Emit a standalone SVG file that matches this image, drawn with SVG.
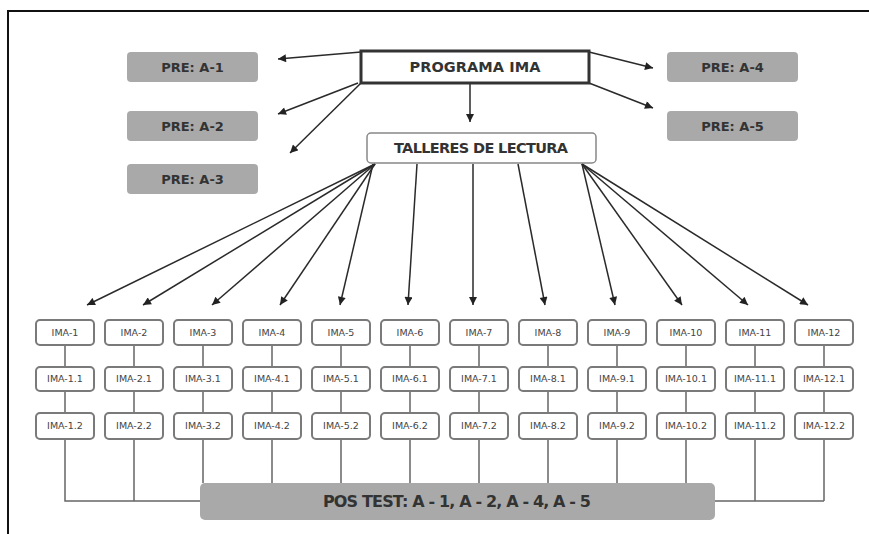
<svg xmlns="http://www.w3.org/2000/svg" width="869" height="534" viewBox="0 0 869 534">
<defs>
<marker id="ah" viewBox="0 0 10 10" refX="10" refY="5" markerWidth="9" markerHeight="8" markerUnits="userSpaceOnUse" orient="auto">
<path d="M0,0 L10,5 L0,10 z" fill="#222"/>
</marker>
<style>
.pre{fill:#a9a9a9;}
.pt{font-family:"DejaVu Sans","Liberation Sans",sans-serif;font-size:13px;font-weight:bold;fill:#333;text-anchor:middle;}
.ima{fill:#fff;stroke:#7a7a7a;stroke-width:2;}
.it{font-family:"DejaVu Sans","Liberation Sans",sans-serif;font-size:9.5px;fill:#444;text-anchor:middle;}
.arr{stroke:#2a2a2a;stroke-width:1.5;fill:none;marker-end:url(#ah);}
.ln{stroke:#666;stroke-width:1.5;fill:none;}
</style>
</defs>
<rect width="869" height="534" fill="#fff"/>
<rect x="8" y="11" width="900" height="600" fill="none" stroke="#111" stroke-width="2"/>

<g id="connectors">
<line class="arr" x1="361" y1="52" x2="278" y2="59"/>
<line class="arr" x1="358" y1="83" x2="278" y2="114"/>
<line class="arr" x1="361" y1="83" x2="290" y2="153"/>
<line class="arr" x1="589" y1="52" x2="653" y2="68"/>
<line class="arr" x1="589" y1="83" x2="653" y2="108"/>
<line class="arr" x1="470" y1="83" x2="470" y2="122"/>

<line class="arr" x1="375" y1="164" x2="87" y2="305"/>
<line class="arr" x1="375" y1="164" x2="143" y2="305"/>
<line class="arr" x1="375" y1="164" x2="212" y2="305"/>
<line class="arr" x1="375" y1="164" x2="280" y2="305"/>
<line class="arr" x1="373" y1="164" x2="340" y2="305"/>
<line class="arr" x1="417" y1="164" x2="408" y2="305"/>
<line class="arr" x1="473" y1="164" x2="473" y2="305"/>
<line class="arr" x1="518" y1="164" x2="545" y2="305"/>
<line class="arr" x1="582" y1="164" x2="615" y2="305"/>
<line class="arr" x1="582" y1="164" x2="682" y2="305"/>
<line class="arr" x1="582" y1="164" x2="748" y2="305"/>
<line class="arr" x1="582" y1="164" x2="808" y2="305"/>

<path class="ln" d="M65,345V367M65,391V413M65,439V501H824M824,439V501M134,439V501M755,439V501"/>
<path class="ln" d="M134,345V367M134,391V413"/>
<path class="ln" d="M203,345V367M203,391V413M203,439V483"/>
<path class="ln" d="M272,345V367M272,391V413M272,439V483"/>
<path class="ln" d="M341,345V367M341,391V413M341,439V483"/>
<path class="ln" d="M410,345V367M410,391V413M410,439V483"/>
<path class="ln" d="M479,345V367M479,391V413M479,439V483"/>
<path class="ln" d="M548,345V367M548,391V413M548,439V483"/>
<path class="ln" d="M617,345V367M617,391V413M617,439V483"/>
<path class="ln" d="M686,345V367M686,391V413M686,439V483"/>
<path class="ln" d="M755,345V367M755,391V413"/>
<path class="ln" d="M824,345V367M824,391V413"/>
</g>

<g id="programa">
<rect x="361" y="51" width="228" height="32" fill="#fff" stroke="#333" stroke-width="3"/>
<text class="pt" x="475" y="72" style="font-size:14.5px" textLength="131" lengthAdjust="spacing">PROGRAMA IMA</text>
</g>
<g id="talleres">
<rect x="367" y="133" width="229" height="30" rx="4" fill="#fff" stroke="#888" stroke-width="1.5"/>
<text class="pt" x="481" y="153" style="font-size:14.5px" textLength="174" lengthAdjust="spacing">TALLERES DE LECTURA</text>
</g>

<g id="pre-a1"><rect class="pre" x="127" y="52" width="131" height="30" rx="4"/><text class="pt" x="192.5" y="72">PRE: A-1</text></g>
<g id="pre-a2"><rect class="pre" x="127" y="111" width="131" height="30" rx="4"/><text class="pt" x="192.5" y="131">PRE: A-2</text></g>
<g id="pre-a3"><rect class="pre" x="127" y="164" width="131" height="30" rx="4"/><text class="pt" x="192.5" y="184">PRE: A-3</text></g>
<g id="pre-a4"><rect class="pre" x="667" y="52" width="131" height="30" rx="4"/><text class="pt" x="732.5" y="72">PRE: A-4</text></g>
<g id="pre-a5"><rect class="pre" x="667" y="111" width="131" height="30" rx="4"/><text class="pt" x="732.5" y="131">PRE: A-5</text></g>

<g id="ima-1"><rect class="ima" x="36" y="320" width="58" height="25" rx="4"/><text class="it" x="65" y="336">IMA-1</text></g>
<g id="ima-1-1"><rect class="ima" x="36" y="367" width="58" height="24" rx="4"/><text class="it" x="65" y="382">IMA-1.1</text></g>
<g id="ima-1-2"><rect class="ima" x="36" y="413" width="58" height="26" rx="4"/><text class="it" x="65" y="429">IMA-1.2</text></g>

<g id="ima-2"><rect class="ima" x="105" y="320" width="58" height="25" rx="4"/><text class="it" x="134" y="336">IMA-2</text></g>
<g id="ima-2-1"><rect class="ima" x="105" y="367" width="58" height="24" rx="4"/><text class="it" x="134" y="382">IMA-2.1</text></g>
<g id="ima-2-2"><rect class="ima" x="105" y="413" width="58" height="26" rx="4"/><text class="it" x="134" y="429">IMA-2.2</text></g>

<g id="ima-3"><rect class="ima" x="174" y="320" width="58" height="25" rx="4"/><text class="it" x="203" y="336">IMA-3</text></g>
<g id="ima-3-1"><rect class="ima" x="174" y="367" width="58" height="24" rx="4"/><text class="it" x="203" y="382">IMA-3.1</text></g>
<g id="ima-3-2"><rect class="ima" x="174" y="413" width="58" height="26" rx="4"/><text class="it" x="203" y="429">IMA-3.2</text></g>

<g id="ima-4"><rect class="ima" x="243" y="320" width="58" height="25" rx="4"/><text class="it" x="272" y="336">IMA-4</text></g>
<g id="ima-4-1"><rect class="ima" x="243" y="367" width="58" height="24" rx="4"/><text class="it" x="272" y="382">IMA-4.1</text></g>
<g id="ima-4-2"><rect class="ima" x="243" y="413" width="58" height="26" rx="4"/><text class="it" x="272" y="429">IMA-4.2</text></g>

<g id="ima-5"><rect class="ima" x="312" y="320" width="58" height="25" rx="4"/><text class="it" x="341" y="336">IMA-5</text></g>
<g id="ima-5-1"><rect class="ima" x="312" y="367" width="58" height="24" rx="4"/><text class="it" x="341" y="382">IMA-5.1</text></g>
<g id="ima-5-2"><rect class="ima" x="312" y="413" width="58" height="26" rx="4"/><text class="it" x="341" y="429">IMA-5.2</text></g>

<g id="ima-6"><rect class="ima" x="381" y="320" width="58" height="25" rx="4"/><text class="it" x="410" y="336">IMA-6</text></g>
<g id="ima-6-1"><rect class="ima" x="381" y="367" width="58" height="24" rx="4"/><text class="it" x="410" y="382">IMA-6.1</text></g>
<g id="ima-6-2"><rect class="ima" x="381" y="413" width="58" height="26" rx="4"/><text class="it" x="410" y="429">IMA-6.2</text></g>

<g id="ima-7"><rect class="ima" x="450" y="320" width="58" height="25" rx="4"/><text class="it" x="479" y="336">IMA-7</text></g>
<g id="ima-7-1"><rect class="ima" x="450" y="367" width="58" height="24" rx="4"/><text class="it" x="479" y="382">IMA-7.1</text></g>
<g id="ima-7-2"><rect class="ima" x="450" y="413" width="58" height="26" rx="4"/><text class="it" x="479" y="429">IMA-7.2</text></g>

<g id="ima-8"><rect class="ima" x="519" y="320" width="58" height="25" rx="4"/><text class="it" x="548" y="336">IMA-8</text></g>
<g id="ima-8-1"><rect class="ima" x="519" y="367" width="58" height="24" rx="4"/><text class="it" x="548" y="382">IMA-8.1</text></g>
<g id="ima-8-2"><rect class="ima" x="519" y="413" width="58" height="26" rx="4"/><text class="it" x="548" y="429">IMA-8.2</text></g>

<g id="ima-9"><rect class="ima" x="588" y="320" width="58" height="25" rx="4"/><text class="it" x="617" y="336">IMA-9</text></g>
<g id="ima-9-1"><rect class="ima" x="588" y="367" width="58" height="24" rx="4"/><text class="it" x="617" y="382">IMA-9.1</text></g>
<g id="ima-9-2"><rect class="ima" x="588" y="413" width="58" height="26" rx="4"/><text class="it" x="617" y="429">IMA-9.2</text></g>

<g id="ima-10"><rect class="ima" x="657" y="320" width="58" height="25" rx="4"/><text class="it" x="686" y="336">IMA-10</text></g>
<g id="ima-10-1"><rect class="ima" x="657" y="367" width="58" height="24" rx="4"/><text class="it" x="686" y="382">IMA-10.1</text></g>
<g id="ima-10-2"><rect class="ima" x="657" y="413" width="58" height="26" rx="4"/><text class="it" x="686" y="429">IMA-10.2</text></g>

<g id="ima-11"><rect class="ima" x="726" y="320" width="58" height="25" rx="4"/><text class="it" x="755" y="336">IMA-11</text></g>
<g id="ima-11-1"><rect class="ima" x="726" y="367" width="58" height="24" rx="4"/><text class="it" x="755" y="382">IMA-11.1</text></g>
<g id="ima-11-2"><rect class="ima" x="726" y="413" width="58" height="26" rx="4"/><text class="it" x="755" y="429">IMA-11.2</text></g>

<g id="ima-12"><rect class="ima" x="795" y="320" width="58" height="25" rx="4"/><text class="it" x="824" y="336">IMA-12</text></g>
<g id="ima-12-1"><rect class="ima" x="795" y="367" width="58" height="24" rx="4"/><text class="it" x="824" y="382">IMA-12.1</text></g>
<g id="ima-12-2"><rect class="ima" x="795" y="413" width="58" height="26" rx="4"/><text class="it" x="824" y="429">IMA-12.2</text></g>

<g id="pos-test">
<rect x="200" y="483" width="515" height="37" rx="5" fill="#a9a9a9"/>
<text class="pt" x="457" y="507" style="font-size:16px" textLength="268" lengthAdjust="spacing">POS TEST: A - 1, A - 2, A - 4, A - 5</text>
</g>
</svg>
